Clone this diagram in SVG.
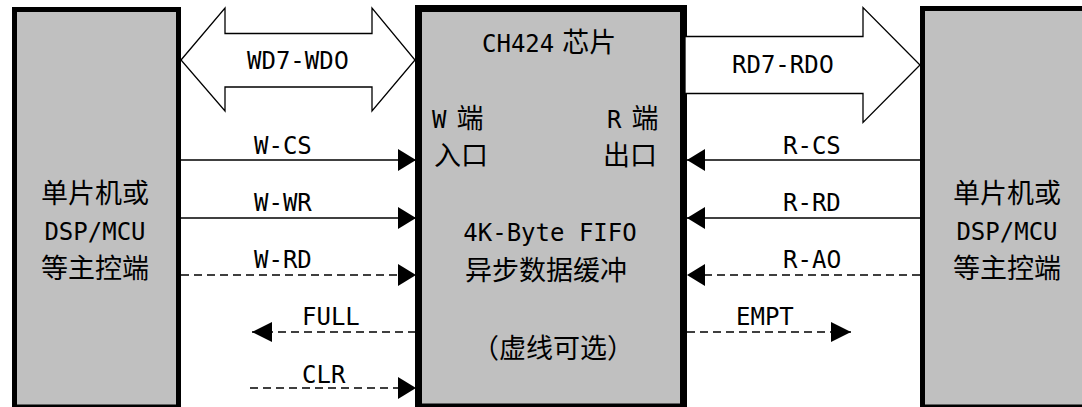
<svg xmlns="http://www.w3.org/2000/svg" width="1082" height="407" viewBox="0 0 1082 407">
<style>
.box{fill:#c0c0c0;stroke:#000}
.lat{font-family:'DejaVu Sans Mono','Liberation Mono',monospace;font-size:24px;fill:#000}
.cjk{font-family:'Noto Sans CJK SC',sans-serif;font-size:27px;fill:#000}
.z{font-family:'DejaVu Sans',sans-serif}
.sig{fill:none;stroke:#000;stroke-width:1.5}
.dash{stroke-dasharray:8 5}
.bus{fill:#fff;stroke:#000;stroke-width:1.3}
.mid{text-anchor:middle}
</style>
<defs>
<marker id="ah" viewBox="0 0 18 22" refX="18" refY="11" markerWidth="18" markerHeight="22" markerUnits="userSpaceOnUse" orient="auto">
<path d="M0,0 L18,11 L0,22 z" fill="#000"/>
</marker>
<marker id="ah2" viewBox="0 0 20 20" refX="20" refY="10" markerWidth="20" markerHeight="20" markerUnits="userSpaceOnUse" orient="auto">
<path d="M0,0 L20,10 L0,20 z" fill="#000"/>
</marker>
</defs>
<rect width="1082" height="407" fill="#fff"/>
<g id="left-host">
<rect class="box" x="14.5" y="9.5" width="164" height="397.5" stroke-width="5"/>
<text class="cjk mid" x="95" y="203">单片机或</text>
<text class="lat mid" x="95" y="240">DSP/MCU</text>
<text class="cjk mid" x="95" y="278">等主控端</text>
</g>
<g id="ch424">
<rect class="box" x="418.5" y="8.5" width="265" height="398.5" stroke-width="7"/>
<text class="lat" x="482" y="52">CH424<tspan class="cjk" dx="2"> 芯片</tspan></text>
<text class="lat" x="432" y="128">W<tspan class="cjk" dx="4"> 端</tspan></text>
<text class="lat" x="607" y="128">R<tspan class="cjk" dx="4"> 端</tspan></text>
<text class="cjk" x="434" y="165">入口</text>
<text class="cjk" x="603" y="165">出口</text>
<text class="lat mid" x="550" y="241">4K-Byte FIFO</text>
<text class="cjk mid" x="546" y="280">异步数据缓冲</text>
<text class="cjk mid" x="553" y="358">（虚线可选）</text>
</g>
<g id="right-host">
<rect class="box" x="922.5" y="8.5" width="170" height="398.5" stroke-width="5"/>
<text class="cjk mid" x="1007" y="203">单片机或</text>
<text class="lat mid" x="1007" y="240">DSP/MCU</text>
<text class="cjk mid" x="1007" y="278">等主控端</text>
</g>
<g id="connectors">
<polygon class="bus" points="181,60 225,8 225,33.5 372,33.5 372,8 415,60 372,111 372,87 225,87 225,111"/>
<text class="lat mid" x="298" y="69">WD7-WD<tspan class="z">0</tspan></text>
<polygon class="bus" points="685,36.5 863,36.5 863,7.5 920,65 863,122.5 863,93.5 685,93.5"/>
<text class="lat mid" x="783" y="73">RD7-RD<tspan class="z">0</tspan></text>
<path class="sig" d="M181,160 H416" marker-end="url(#ah)"/>
<text class="lat" x="254" y="154">W-CS</text>
<path class="sig" d="M181,218 H416" marker-end="url(#ah)"/>
<text class="lat" x="254" y="211">W-WR</text>
<path class="sig dash" d="M181,275 H416" marker-end="url(#ah)"/>
<text class="lat" x="254" y="268">W-RD</text>
<path class="sig dash" d="M416,332 H252" marker-end="url(#ah2)"/>
<text class="lat" x="302" y="325">FULL</text>
<path class="sig dash" d="M250,388 H416" marker-end="url(#ah)"/>
<text class="lat" x="302" y="383">CLR</text>
<path class="sig" d="M920,160 H687" marker-end="url(#ah)"/>
<text class="lat" x="783" y="154">R-CS</text>
<path class="sig" d="M920,218 H687" marker-end="url(#ah)"/>
<text class="lat" x="783" y="211">R-RD</text>
<path class="sig dash" d="M920,275 H687" marker-end="url(#ah)"/>
<text class="lat" x="783" y="268">R-A<tspan class="z">0</tspan></text>
<path class="sig dash" d="M687,332 H851" marker-end="url(#ah2)"/>
<text class="lat" x="736" y="325">EMPT</text>
</g>
</svg>
